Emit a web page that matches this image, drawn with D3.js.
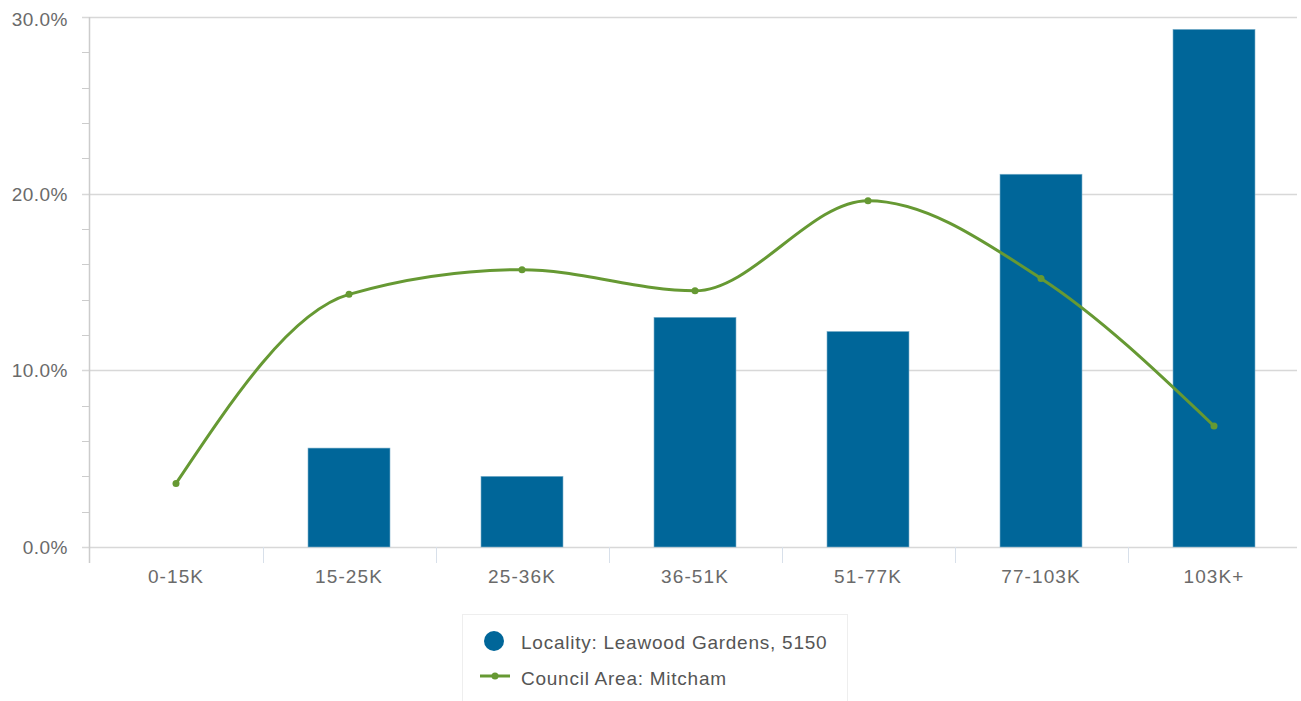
<!DOCTYPE html>
<html><head><meta charset="utf-8">
<script src="https://cdn.jsdelivr.net/npm/d3@7"></script>
<style>body{margin:0;background:#fff;font-family:"Liberation Sans",Arial,sans-serif;}</style>
</head><body>
<svg id="c" width="1301" height="701"></svg>
<script>
const categories = ["0-15K","15-25K","25-36K","36-51K","51-77K","77-103K","103K+"];
const localityValues = [0, 5.6, 4.0, 13.0, 12.2, 21.1, 29.3];
const councilValues = [3.6, 14.3, 15.7, 14.5, 19.6, 15.2, 6.85];
const yTicks = [0, 10, 20, 30];
const seriesNames = ["Locality: Leawood Gardens, 5150", "Council Area: Mitcham"];

const svg = d3.select("#c");
const pLeft = 89.5, pRight = 1300.5, pTop = 17, pBottom = 547;
const x = d3.scaleBand().domain(categories).range([pLeft, pRight]).paddingInner(0).paddingOuter(0);
const y = d3.scaleLinear().domain([0, 30]).range([pBottom, pTop]);
const barColor = "#006699", lineColor = "#669933";

// gridlines
svg.append("g").selectAll("line").data(yTicks).join("line")
  .attr("x1", 82).attr("x2", 1297)
  .attr("y1", d => Math.round(y(d)) + 0.5).attr("y2", d => Math.round(y(d)) + 0.5)
  .attr("stroke", "#d8d8d8").attr("stroke-width", 1.5);
// minor ticks
const minor = d3.range(0, 30.01, 2).filter(v => v % 10 !== 0);
svg.append("g").selectAll("line").data(minor).join("line")
  .attr("x1", 82).attr("x2", 89)
  .attr("y1", d => Math.round(y(d)) + 0.5).attr("y2", d => Math.round(y(d)) + 0.5)
  .attr("stroke", "#cccccc");
// y axis line
svg.append("line").attr("x1", 89.5).attr("x2", 89.5).attr("y1", pTop).attr("y2", 563)
  .attr("stroke", "#cccccc").attr("stroke-width", 1.5);
// x ticks at boundaries
svg.append("g").selectAll("line").data(categories.slice(1)).join("line")
  .attr("x1", d => Math.round(x(d)) + 0.5).attr("x2", d => Math.round(x(d)) + 0.5)
  .attr("y1", pBottom).attr("y2", 563)
  .attr("stroke", "#d8e0ea");
// y labels
svg.append("g").selectAll("text").data(yTicks).join("text")
  .attr("x", 68).attr("y", d => y(d) + (d === 30 ? 9 : 7)).attr("text-anchor", "end")
  .attr("font-size", 19).attr("letter-spacing", 0.5).attr("fill", "#6a6a6a").text(d => d.toFixed(1) + "%");
// x labels
svg.append("g").selectAll("text").data(categories).join("text")
  .attr("x", d => x(d) + x.bandwidth() / 2).attr("y", 583).attr("text-anchor", "middle")
  .attr("font-size", 19).attr("letter-spacing", 1.1).attr("fill", "#6a6a6a").text(d => d);

// bars
const bw = 82;
svg.append("g").selectAll("rect").data(categories.map((c, i) => ({c, v: localityValues[i]})).filter(d => d.v > 0)).join("rect")
  .attr("x", d => x(d.c) + x.bandwidth() / 2 - bw / 2).attr("width", bw)
  .attr("y", d => y(d.v)).attr("height", d => y(0) - y(d.v))
  .attr("fill", barColor).attr("stroke", "#7fb2cc").attr("stroke-width", 0.6);

// line
const pts = categories.map((c, i) => [x(c) + x.bandwidth() / 2, y(councilValues[i])]);
svg.append("path").attr("d", d3.line().curve(d3.curveMonotoneX)(pts))
  .attr("fill", "none").attr("stroke", lineColor).attr("stroke-width", 3);
svg.append("g").selectAll("circle").data(pts).join("circle")
  .attr("cx", d => d[0]).attr("cy", d => d[1]).attr("r", 3.5).attr("fill", lineColor);

// legend
svg.append("rect").attr("x", 462.5).attr("y", 614.5).attr("width", 385).attr("height", 100)
  .attr("fill", "#fff").attr("stroke", "#eeeeee");
svg.append("circle").attr("cx", 494).attr("cy", 641).attr("r", 10).attr("fill", barColor);
svg.append("line").attr("x1", 480).attr("x2", 510).attr("y1", 676).attr("y2", 676)
  .attr("stroke", lineColor).attr("stroke-width", 3);
svg.append("circle").attr("cx", 495).attr("cy", 676).attr("r", 3.5).attr("fill", lineColor);
svg.append("g").selectAll("text").data(seriesNames).join("text")
  .attr("x", 521).attr("y", (d, i) => 649 + i * 36)
  .attr("font-size", 19).attr("letter-spacing", 0.75).attr("fill", "#555").text(d => d);
</script>
</body></html>
